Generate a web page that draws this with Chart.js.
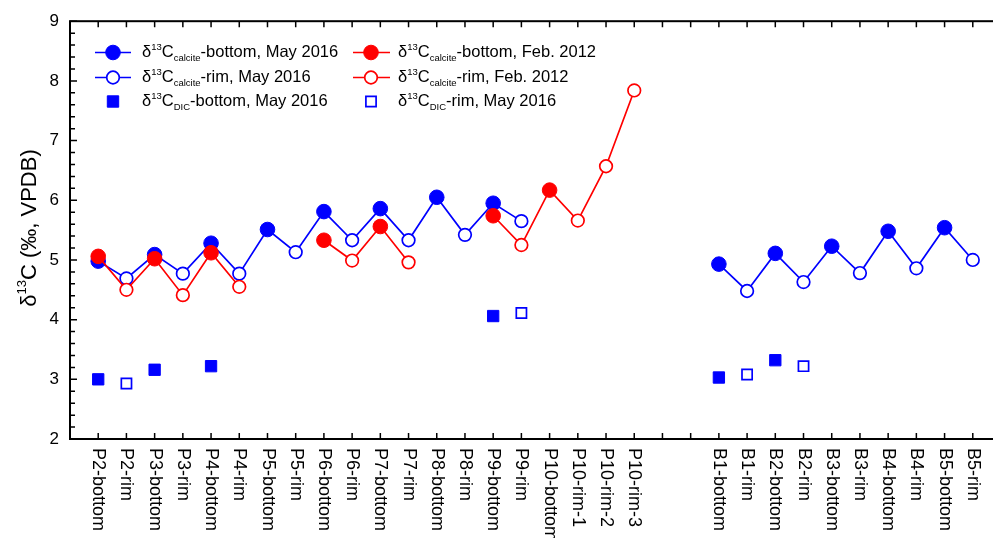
<!DOCTYPE html>
<html>
<head>
<meta charset="utf-8">
<title>d13C calcite and DIC</title>
<script src="https://cdn.jsdelivr.net/npm/chart.js@4.4.0/dist/chart.umd.min.js"></script>
<style>
  html, body { margin: 0; padding: 0; background: #fff; overflow: hidden; }
  #wrap { position: relative; width: 1010px; height: 538px; }
</style>
</head>
<body>
<div id="wrap"><canvas id="chart"></canvas></div>
<script>
// sample positions along the x axis ('' = empty gap slot)
const categories = [
  'P2-bottom', 'P2-rim', 'P3-bottom', 'P3-rim', 'P4-bottom', 'P4-rim',
  'P5-bottom', 'P5-rim', 'P6-bottom', 'P6-rim', 'P7-bottom', 'P7-rim',
  'P8-bottom', 'P8-rim', 'P9-bottom', 'P9-rim', 'P10-bottom', 'P10-rim-1',
  'P10-rim-2', 'P10-rim-3', '', '',
  'B1-bottom', 'B1-rim', 'B2-bottom', 'B2-rim', 'B3-bottom', 'B3-rim',
  'B4-bottom', 'B4-rim', 'B5-bottom', 'B5-rim'
];

// d13C calcite, May 2016
const calcite2016 = [
  4.98, 4.69, 5.09, 4.77, 5.28, 4.77, 5.51, 5.13, 5.81, 5.33, 5.86, 5.33,
  6.05, 5.42, 5.95, 5.65, null, null, null, null, null, null,
  4.93, 4.48, 5.11, 4.63, 5.23, 4.78, 5.48, 4.86, 5.54, 5.00
];

// d13C calcite, Feb. 2012
const calcite2012 = [
  5.06, 4.50, 5.02, 4.41, 5.12, 4.55, null, null, 5.33, 4.99, 5.56, 4.96,
  null, null, 5.74, 5.25, 6.17, 5.66, 6.57, 7.84, null, null,
  null, null, null, null, null, null, null, null, null, null
];

// d13C DIC, May 2016
const dic2016 = [
  3.00, 2.93, 3.16, null, 3.22, null, null, null, null, null, null, null,
  null, null, 4.06, 4.11, null, null, null, null, null, null,
  3.03, 3.08, 3.32, 3.22, null, null, null, null, null, null
];

const yTicks = [2, 3, 4, 5, 6, 7, 8, 9];

const BLUE = '#0000ff';
const RED = '#ff0000';
const FONT = '"Liberation Sans", Arial, Helvetica, sans-serif';

const isBottom = i => categories[i].includes('bottom');
const withGaps = arr => arr.map((v, i) => ({ x: i, y: v }));
const onlyValues = arr => withGaps(arr).filter(p => p.y !== null);

const fillFor = color => c => (c.raw && isBottom(c.raw.x)) ? color : '#ffffff';
const radiusFor = c => (c.raw && isBottom(c.raw.x)) ? 7.3 : 6.3;
const borderFor = c => (c.raw && isBottom(c.raw.x)) ? 1 : 1.7;

function lineSet(arr, color, order) {
  return {
    data: withGaps(arr), order: order,
    showLine: true, spanGaps: false,
    borderColor: color, borderWidth: 1.7,
    pointRadius: 0
  };
}

function circleSet(arr, color, order) {
  return {
    data: onlyValues(arr), order: order, showLine: false,
    pointStyle: 'circle', pointRadius: radiusFor,
    pointBorderWidth: borderFor, pointBorderColor: color,
    pointBackgroundColor: fillFor(color)
  };
}

function squareSet(arr, color, order) {
  return {
    data: onlyValues(arr), order: order, showLine: false,
    pointStyle: 'rect',
    pointRadius: c => (c.raw && isBottom(c.raw.x)) ? 8 : 7.2,
    pointBorderWidth: borderFor, pointBorderColor: color,
    pointBackgroundColor: fillFor(color)
  };
}

// text with δ, super- and subscripts: [text, size, dy]
function richText(ctx, parts, x, y, draw) {
  let cx = x;
  for (const [t, size, dy] of parts) {
    ctx.font = size + 'px ' + FONT;
    if (draw) ctx.fillText(t, cx, y + dy);
    cx += ctx.measureText(t).width;
  }
  return cx - x;
}
const legendText = (sub, rest) => [['δ', 16.5, 0], ['13', 9.5, -7], ['C', 16.5, 0], [sub, 9.5, 4], [rest, 16.5, 0]];

const legendItems = [
  { col: 0, row: 0, color: BLUE, marker: 'circle', filled: true, line: true, text: legendText('calcite', '-bottom, May 2016') },
  { col: 0, row: 1, color: BLUE, marker: 'circle', filled: false, line: true, text: legendText('calcite', '-rim, May 2016') },
  { col: 0, row: 2, color: BLUE, marker: 'square', filled: true, line: false, text: legendText('DIC', '-bottom, May 2016') },
  { col: 1, row: 0, color: RED, marker: 'circle', filled: true, line: true, text: legendText('calcite', '-bottom, Feb. 2012') },
  { col: 1, row: 1, color: RED, marker: 'circle', filled: false, line: true, text: legendText('calcite', '-rim, Feb. 2012') },
  { col: 1, row: 2, color: BLUE, marker: 'square', filled: false, line: false, text: legendText('DIC', '-rim, May 2016') }
];

const decor = {
  id: 'decor',
  afterDraw(chart) {
    const { ctx, chartArea: a, scales: { x, y } } = chart;
    ctx.save();

    // frame
    ctx.strokeStyle = '#000';
    ctx.lineWidth = 2;
    ctx.strokeRect(a.left, a.top, a.right - a.left, a.bottom - a.top);

    // inward ticks
    ctx.lineWidth = 1.5;
    ctx.beginPath();
    categories.forEach((c, i) => {
      const px = x.getPixelForValue(i);
      ctx.moveTo(px, a.bottom); ctx.lineTo(px, a.bottom - 6);
      ctx.moveTo(px, a.top); ctx.lineTo(px, a.top + 6);
    });
    for (let k = 0; k <= 35; k++) {
      const py = y.getPixelForValue(2 + k * 0.2);
      ctx.moveTo(a.left, py);
      ctx.lineTo(a.left + (k % 5 === 0 ? 7 : 5), py);
    }
    ctx.stroke();

    // x labels, rotated, reading top to bottom
    ctx.fillStyle = '#000';
    ctx.font = '18px ' + FONT;
    ctx.textAlign = 'left';
    ctx.textBaseline = 'middle';
    categories.forEach((c, i) => {
      if (!c) return;
      ctx.save();
      ctx.translate(x.getPixelForValue(i), a.bottom + 9);
      ctx.rotate(Math.PI / 2);
      ctx.fillText(c, 0, 0);
      ctx.restore();
    });

    // y title
    ctx.textBaseline = 'alphabetic';
    const title = [['δ', 22, 0], ['13', 13, -10], ['C (‰, VPDB)', 22, 0]];
    ctx.save();
    ctx.translate(28, 228);
    ctx.rotate(-Math.PI / 2);
    const tw = richText(ctx, title, 0, 0, false);
    richText(ctx, title, -tw / 2, 8, true);
    ctx.restore();

    // legend
    const cols = [{ l0: 95, l1: 131, m: 113, t: 142 }, { l0: 353, l1: 390, m: 371, t: 398 }];
    const rows = [57, 82, 106];
    legendItems.forEach(it => {
      const c = cols[it.col], by = rows[it.row], my = by - 4.5;
      ctx.strokeStyle = it.color;
      if (it.line) {
        ctx.lineWidth = 1.7;
        ctx.beginPath(); ctx.moveTo(c.l0, my); ctx.lineTo(c.l1, my); ctx.stroke();
      }
      ctx.beginPath();
      if (it.marker === 'circle') {
        ctx.arc(c.m, my, it.filled ? 7.3 : 6.3, 0, Math.PI * 2);
      } else {
        const h = it.filled ? 5.7 : 5.1;
        ctx.rect(c.m - h, my - h, 2 * h, 2 * h);
      }
      ctx.fillStyle = it.filled ? it.color : '#fff';
      ctx.fill();
      ctx.lineWidth = it.filled ? 1 : 1.7;
      ctx.stroke();
      ctx.fillStyle = '#000';
      richText(ctx, it.text, c.t, by, true);
    });

    ctx.restore();
  }
};

new Chart(document.getElementById('chart'), {
  type: 'scatter',
  data: {
    datasets: [
      circleSet(calcite2012, RED, 0),
      lineSet(calcite2012, RED, 1),
      circleSet(calcite2016, BLUE, 2),
      lineSet(calcite2016, BLUE, 3),
      squareSet(dic2016, BLUE, 4)
    ]
  },
  options: {
    responsive: true,
    maintainAspectRatio: false,
    animation: false,
    events: [],
    layout: { padding: { top: 18, right: 8, left: 0, bottom: 0 } },
    plugins: { legend: { display: false }, tooltip: { enabled: false } },
    scales: {
      x: {
        type: 'linear', min: -1, max: categories.length,
        grid: { display: false, drawTicks: false },
        border: { display: false },
        ticks: { display: false },
        afterFit(s) { s.height = 99; }
      },
      y: {
        type: 'linear', min: yTicks[0], max: yTicks[yTicks.length - 1],
        grid: { display: false, drawTicks: false },
        border: { display: false },
        afterBuildTicks(s) { s.ticks = yTicks.map(v => ({ value: v })); },
        ticks: { color: '#000', padding: 11, font: { size: 17, family: FONT } },
        afterFit(s) { s.width = 70; }
      }
    }
  },
  plugins: [decor]
});
</script>
</body>
</html>
